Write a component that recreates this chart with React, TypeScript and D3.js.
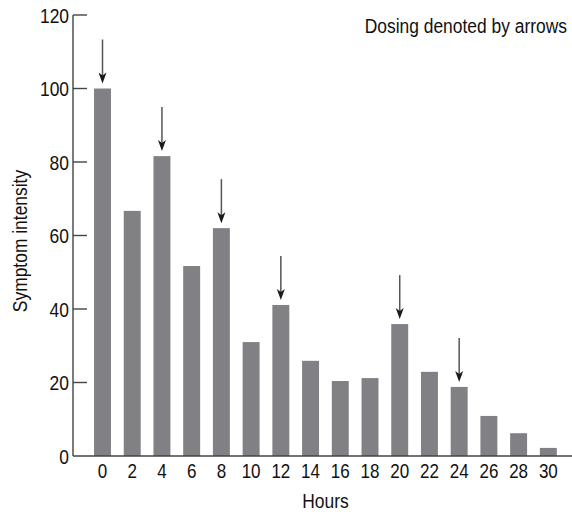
import React, { useRef, useEffect } from 'react';
import * as d3 from 'd3';

const W = 572;
const H = 512;

const hours = [0, 2, 4, 6, 8, 10, 12, 14, 16, 18, 20, 22, 24, 26, 28, 30];
const intensity = [100, 66.7, 81.6, 51.7, 62, 31, 41.1, 25.9, 20.4, 21.2, 35.9, 22.9, 18.8, 10.9, 6.2, 2.2];
const dosingHours = [0, 4, 8, 12, 20, 24];
const yTicks = [0, 20, 40, 60, 80, 100, 120];

const FONT = '"Liberation Sans", Arial, sans-serif';
// the reference uses a narrow Helvetica; squeeze Liberation Sans to match
const NARROW = 0.83;

const App: React.FC = () => {
  const svgRef = useRef<SVGSVGElement>(null);

  useEffect(() => {
    if (!svgRef.current) return;
    const svg = d3.select(svgRef.current);
    svg.selectAll('*').remove();

    const label = (
      parent: d3.Selection<any, unknown, null, undefined>,
      tx: number,
      ty: number,
      text: string,
      anchor: string,
      size: number,
      extra = '',
    ) =>
      parent
        .append('text')
        .attr('transform', `translate(${tx},${ty}) ${extra} scale(${NARROW},1)`)
        .attr('text-anchor', anchor)
        .attr('font-family', FONT)
        .attr('font-size', size)
        .attr('fill', '#111')
        .text(text);

    const axisX = 73;
    const y = d3.scaleLinear().domain([0, 120]).range([456, 15]);
    const x = d3
      .scaleBand<number>()
      .domain(hours)
      .range([87.64, 563.2])
      .paddingInner(0.43)
      .paddingOuter(0.215);

    // bars
    svg
      .append('g')
      .selectAll('rect')
      .data(hours)
      .join('rect')
      .attr('x', (d) => x(d) ?? 0)
      .attr('y', (_, i) => y(intensity[i]))
      .attr('width', x.bandwidth())
      .attr('height', (_, i) => y(0) - y(intensity[i]))
      .attr('fill', '#818185');

    // axes
    svg
      .append('line')
      .attr('x1', axisX)
      .attr('x2', axisX)
      .attr('y1', y(120))
      .attr('y2', y(0))
      .attr('stroke', '#444')
      .attr('stroke-width', 1.4);
    svg
      .append('line')
      .attr('x1', axisX)
      .attr('x2', W)
      .attr('y1', y(0))
      .attr('y2', y(0))
      .attr('stroke', '#444')
      .attr('stroke-width', 1.4);

    // y ticks (inward) + labels
    const yt = svg.append('g');
    yTicks.forEach((t) => {
      if (t > 0) {
        yt.append('line')
          .attr('x1', axisX)
          .attr('x2', axisX + 14)
          .attr('y1', y(t))
          .attr('y2', y(t))
          .attr('stroke', '#444')
          .attr('stroke-width', 1.4);
      }
      label(yt, 69, y(t) + 7.5, String(t), 'end', 21);
    });

    // x labels
    const xg = svg.append('g');
    hours.forEach((h) => {
      label(xg, (x(h) ?? 0) + x.bandwidth() / 2, 478, String(h), 'middle', 20.5);
    });

    // dosing arrows
    const ag = svg.append('g');
    dosingHours.forEach((h) => {
      const i = hours.indexOf(h);
      const cx = (x(h) ?? 0) + x.bandwidth() / 2;
      const tip = y(intensity[i]) - 5;
      const top = tip - 44;
      ag.append('line')
        .attr('x1', cx)
        .attr('x2', cx)
        .attr('y1', top)
        .attr('y2', tip - 6)
        .attr('stroke', '#555')
        .attr('stroke-width', 1.5);
      ag.append('path')
        .attr('d', `M${cx},${tip} L${cx - 4},${tip - 11} L${cx},${tip - 8} L${cx + 4},${tip - 11} Z`)
        .attr('fill', '#1a1a1a');
    });

    // axis titles
    const midX = ((x(0) ?? 0) + (x(30) ?? 0) + x.bandwidth()) / 2;
    label(svg, midX, 508, 'Hours', 'middle', 21);
    label(svg, 27, 241, 'Symptom intensity', 'middle', 21, 'rotate(-90)');
    label(svg, 567, 33, 'Dosing denoted by arrows', 'end', 21);
  }, []);

  return (
    <svg
      ref={svgRef}
      width={W}
      height={H}
      style={{ position: 'absolute', left: 0, top: 0, background: '#fff' }}
    />
  );
};

export default App;
